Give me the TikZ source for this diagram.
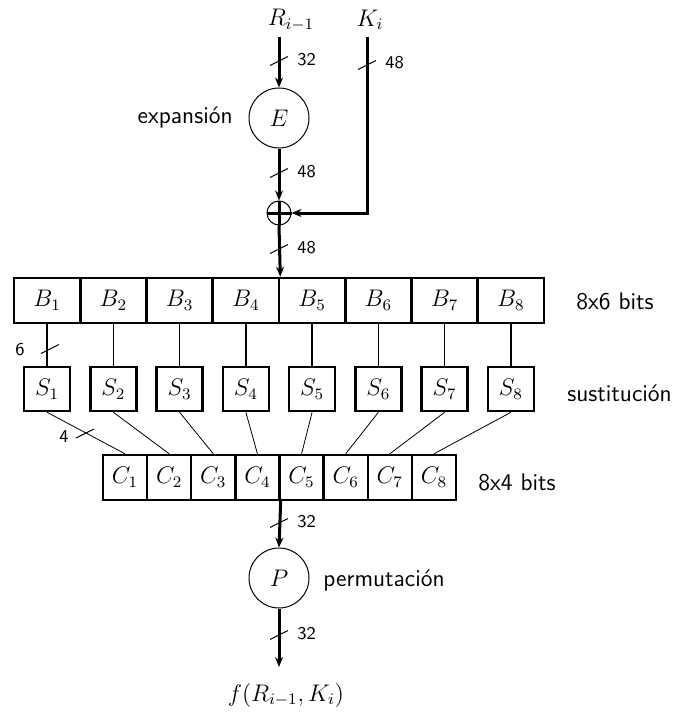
\documentclass[tikz,border=0pt]{standalone}
\usetikzlibrary{arrows.meta,calc}
\begin{document}
\begin{tikzpicture}[x=0.5pt,y=-0.5pt,
  arrowline/.style={line width=1.5pt,-{Stealth[length=5pt,width=4pt]}},
  bcell/.style={draw,line width=1.3pt,minimum width=33.125pt,minimum height=22.5pt,inner sep=0pt,font=\large},
  sbox/.style={draw,line width=1.3pt,minimum width=23pt,minimum height=22pt,inner sep=0pt,font=\large},
  ccell/.style={draw,line width=1.2pt,minimum width=22.06pt,minimum height=22.5pt,inner sep=0pt,font=\large},
  opcircle/.style={draw,circle,line width=0.5pt,minimum size=30pt,inner sep=0pt,font=\large},
  xorcircle/.style={draw,circle,line width=0.5pt,minimum size=12pt,inner sep=0pt},
  bsline/.style={line width=0.8pt},
  scline/.style={line width=0.4pt},
  bitmark/.style={line width=0.5pt},
  numlabel/.style={font=\sffamily\fontsize{9}{10}\selectfont,anchor=west,inner sep=0pt},
  sidelabel/.style={font=\sffamily\fontsize{12}{14}\selectfont,inner sep=0pt},
  mathlabel/.style={font=\large,inner sep=0pt}
]
\useasboundingbox (0,0) rectangle (675,717);

% inputs
\node[mathlabel] (rlab) at (291,20) {$R_{i-1}$};
\node[mathlabel] (klab) at (370,20) {$K_i$};
\coordinate (Rin) at (279,37);
\coordinate (Kin) at (367,37);

% expansion
\node[opcircle] (E) at (279,118) {$E$};
\node[sidelabel,anchor=east] (explab) at (233,118) {expansión};

% xor
\node[xorcircle] (xor) at (279,213) {};
\draw[line width=1.5pt] ($(xor.north)$) -- ($(xor.south)$);
\draw[line width=1.5pt] ($(xor.west)$) -- ($(xor.east)$);

% B row
\foreach \i in {1,...,8}{
  \node[bcell] (b\i) at ({14+66.25*(\i-0.5)},300.5) {$B_{\i}$};
}
\node[sidelabel,anchor=west] (blab) at (576,301) {8x6 bits};

% S boxes
\foreach \i in {1,...,8}{
  \node[sbox] (s\i) at ({14+66.25*(\i-0.5)},389) {$S_{\i}$};
  \draw[bsline] (b\i.south) -- (s\i.north);
}
\node[sidelabel,anchor=west] (slab) at (567,393) {sustitución};

% C row
\foreach \i in {1,...,8}{
  \node[ccell] (c\i) at ({103+44.125*(\i-0.5)},477.5) {$C_{\i}$};
  \draw[scline] (s\i.south) -- (c\i.north);
}
\node[sidelabel,anchor=west] (clab) at (478,482) {8x4 bits};

% permutation
\node[opcircle] (P) at (279,578) {$P$};
\node[sidelabel,anchor=west] (plab) at (323,580) {permutación};
\coordinate (out) at (279,667);
\node[mathlabel] (flab) at (286,695) {$f(R_{i-1},K_i)$};

% connectors
\draw[arrowline] (Rin) -- (E.north);
\draw[arrowline] (E.south) -- (xor.north);
\draw[arrowline] (Kin) |- (xor.east);
\draw[arrowline] (xor.south) -- (b4.north east);
\draw[arrowline] (c4.south east) -- (P.north);
\draw[arrowline] (P.south) -- (out);

% bit-width marks
\foreach \x/\y in {279/61, 367/65, 279/173, 279/249, 50/349, 85/433.5, 279/523, 279/635}{
  \draw[bitmark] (\x,\y) +(-9,4.5) -- +(9,-4.5);
}
\node[numlabel] (n1) at (297,60) {32};
\node[numlabel] (n2) at (385,63) {48};
\node[numlabel] (n3) at (297,172) {48};
\node[numlabel] (n4) at (297,248) {48};
\node[numlabel] (n5) at (15,350) {6};
\node[numlabel] (n6) at (59,437) {4};
\node[numlabel] (n7) at (297,522) {32};
\node[numlabel] (n8) at (297,634) {32};
\end{tikzpicture}
\end{document}
